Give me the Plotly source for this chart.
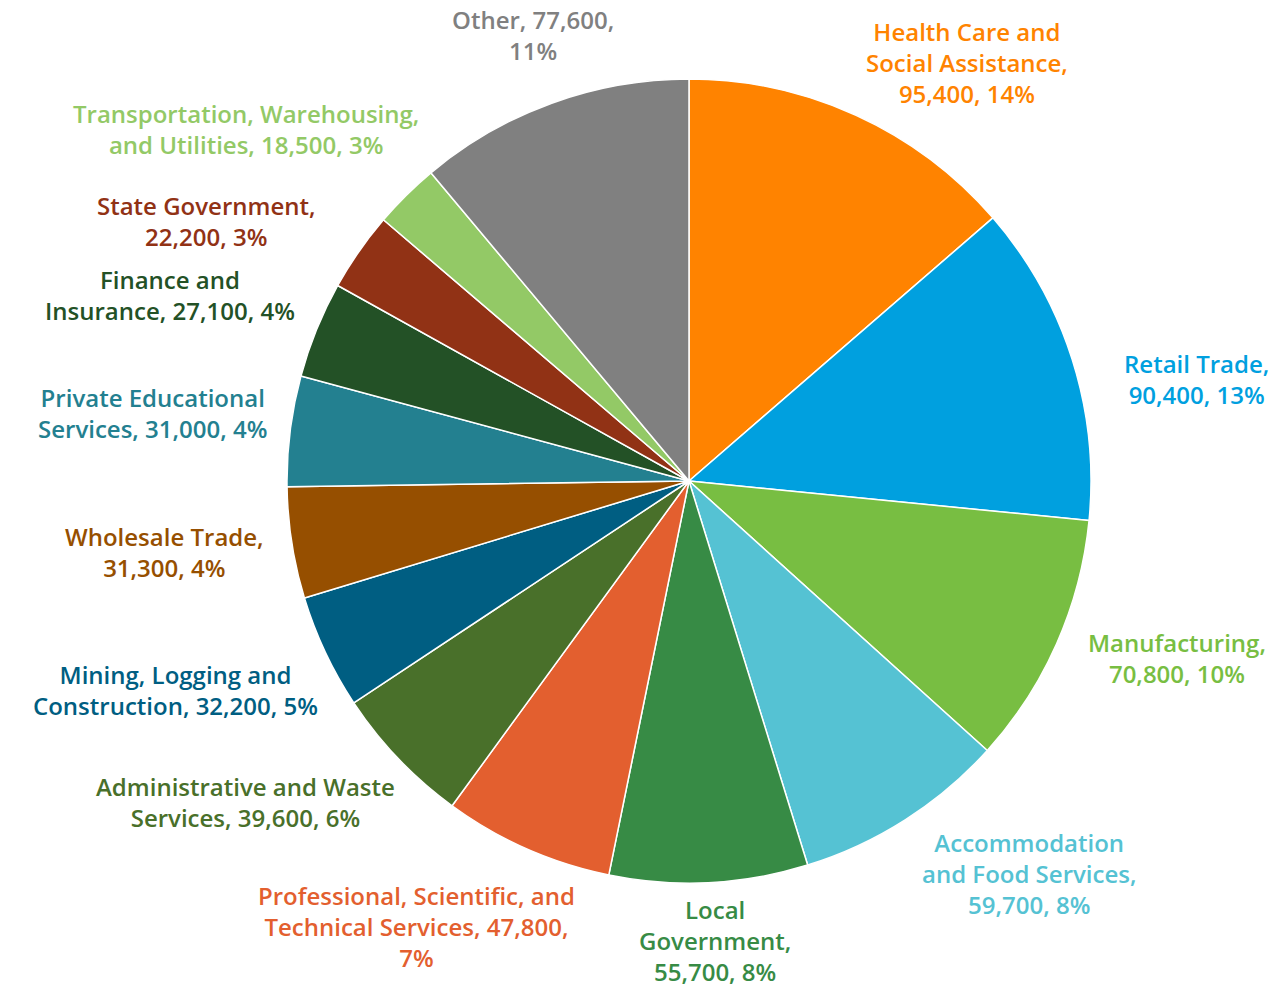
"""Employment by industry - pie chart with outside labels"""

import plotly.graph_objects as go

industries = [
    "Health Care and Social Assistance",
    "Retail Trade",
    "Manufacturing",
    "Accommodation and Food Services",
    "Local Government",
    "Professional, Scientific, and Technical Services",
    "Administrative and Waste Services",
    "Mining, Logging and Construction",
    "Wholesale Trade",
    "Private Educational Services",
    "Finance and Insurance",
    "State Government",
    "Transportation, Warehousing, and Utilities",
    "Other",
]
jobs = [95400, 90400, 70800, 59700, 55700, 47800, 39600,
        32200, 31300, 31000, 27100, 22200, 18500, 77600]
shares = [14, 13, 10, 8, 8, 7, 6, 5, 4, 4, 4, 3, 3, 11]

# how each label is broken over lines ({v} value, {p} share)
label_templates = [
    "Health Care and<br>Social Assistance,<br>{v}, {p}%",
    "Retail Trade,<br>{v}, {p}%",
    "Manufacturing,<br>{v}, {p}%",
    "Accommodation<br>and Food Services,<br>{v}, {p}%",
    "Local<br>Government,<br>{v}, {p}%",
    "Professional, Scientific, and<br>Technical Services, {v},<br>{p}%",
    "Administrative and Waste<br>Services, {v}, {p}%",
    "Mining, Logging and<br>Construction, {v}, {p}%",
    "Wholesale Trade,<br>{v}, {p}%",
    "Private Educational<br>Services, {v}, {p}%",
    "Finance and<br>Insurance, {v}, {p}%",
    "State Government,<br>{v}, {p}%",
    "Transportation, Warehousing,<br>and Utilities, {v}, {p}%",
    "Other, {v},<br>{p}%",
]

colors = [
    "#FF8300", "#00A0DF", "#78BE42", "#55C2D3", "#378B45", "#E35F2F",
    "#49702A", "#005E82", "#964F00", "#238090", "#235126", "#913215",
    "#93C966", "#808080",
]

# label centres in pixels (canvas 1279 x 991)
label_pos = [
    (967, 62), (1196, 379), (1177, 658), (1029, 873), (715, 940),
    (416, 926), (246, 802), (175, 690), (164, 552), (152, 413),
    (170, 295), (206, 221), (246, 129), (533, 35),
]

W, H = 1279, 991
cx, cy, r = 689, 481, 402

fig = go.Figure()
fig.add_trace(
    go.Pie(
        labels=industries,
        values=jobs,
        sort=False,
        direction="clockwise",
        rotation=0,
        textinfo="none",
        hoverinfo="label+value",
        marker=dict(colors=colors, line=dict(color="white", width=1.5)),
        domain=dict(
            x=[(cx - r) / W, (cx + r) / W],
            y=[1 - (cy + r) / H, 1 - (cy - r) / H],
        ),
        showlegend=False,
    )
)

annotations = []
for tmpl, v, p, col, (px, py) in zip(label_templates, jobs, shares, colors, label_pos):
    annotations.append(
        dict(
            text=tmpl.format(v=f"{v:,}", p=p),
            xref="paper",
            yref="paper",
            x=px / W,
            y=1 - py / H,
            xanchor="center",
            yanchor="middle",
            align="center",
            showarrow=False,
            font=dict(family="Open Sans", size=24, color=col, weight=600),
        )
    )

fig.update_layout(
    width=W,
    height=H,
    margin=dict(l=0, r=0, t=0, b=0),
    paper_bgcolor="white",
    plot_bgcolor="white",
    annotations=annotations,
)

fig.write_html(
    "out.html",
    config={"displayModeBar": False},
    post_script="document.body.style.margin='0';document.body.style.overflow='hidden';",
)
